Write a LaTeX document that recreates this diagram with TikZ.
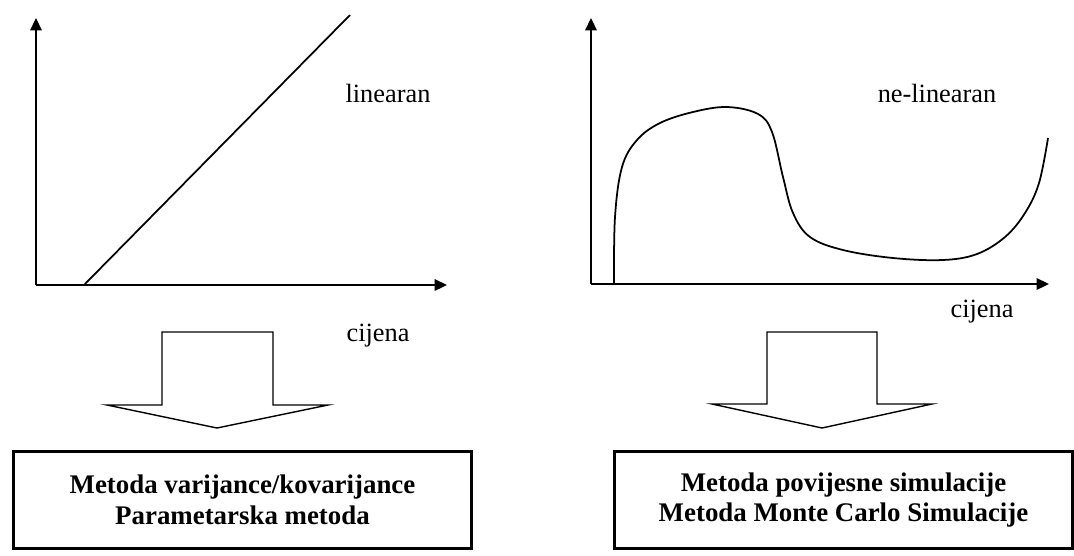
\documentclass[tikz,border=0pt]{standalone}
\usepackage{fontspec}
\setmainfont{Liberation Serif}
\usetikzlibrary{arrows.meta, positioning}

\begin{document}
\begin{tikzpicture}[
  x=0.02cm, y=-0.02cm,
  axis/.style={line width=1pt, -{Triangle[length=7pt, width=6.5pt]}},
  curve/.style={line width=1pt},
  blockarrow/.style={line width=0.8pt, fill=white},
  methodbox/.style={draw, line width=1.6pt, minimum width=9.15cm, minimum height=1.94cm,
                    align=center, font=\fontsize{15.3}{17.5}\selectfont\bfseries, inner sep=4pt},
  lbl/.style={font=\fontsize{15}{17.5}\selectfont}
]
\useasboundingbox (0,0) rectangle (1074,555);

% Left chart: axes
\coordinate (o1) at (36,285);
\draw[axis] (o1) -- (36,18);
\draw[axis] (o1) -- (447,285);

% Linear line
\draw[curve] (84,285) -- (350,15);
\node[lbl] (lin) at (388,93) {linearan};
\node[lbl] (cij1) at (378,336) {cijena};

% Right chart: axes
\coordinate (o2) at (591,284);
\draw[axis] (o2) -- (591,18);
\draw[axis] (o2) -- (1049,284);

% Non-linear curve
\draw[curve] plot[smooth, tension=0.6] coordinates {
  (614,284) (615,217) (622,167) (637,140) (660,123) (693,112) (727,107)
  (758,114) (772,132) (783,177) (793,213) (810,237) (843,250) (893,258)
  (943,260) (977,254) (1005,237) (1025,213) (1039,183) (1048,138)};
\node[lbl] (nlin) at (937,93) {ne-linearan};
\node[lbl] (cij2) at (982,312) {cijena};

% Block arrows
\draw[blockarrow] (162,332) -- (273,332) -- (273,405) -- (328,405) -- (217,428)
  -- (107,405) -- (162,405) -- cycle;
\draw[blockarrow] (767,332) -- (877,332) -- (877,404) -- (932,404) -- (822,428)
  -- (712,404) -- (767,404) -- cycle;

% Method boxes
\node[methodbox] (m1) at (242.5,500)
  {Metoda varijance/kovarijance\\Parametarska metoda};
\node[methodbox] (m2) at (843.5,500)
  {Metoda povijesne simulacije\\Metoda Monte Carlo Simulacije};

\end{tikzpicture}
\end{document}
